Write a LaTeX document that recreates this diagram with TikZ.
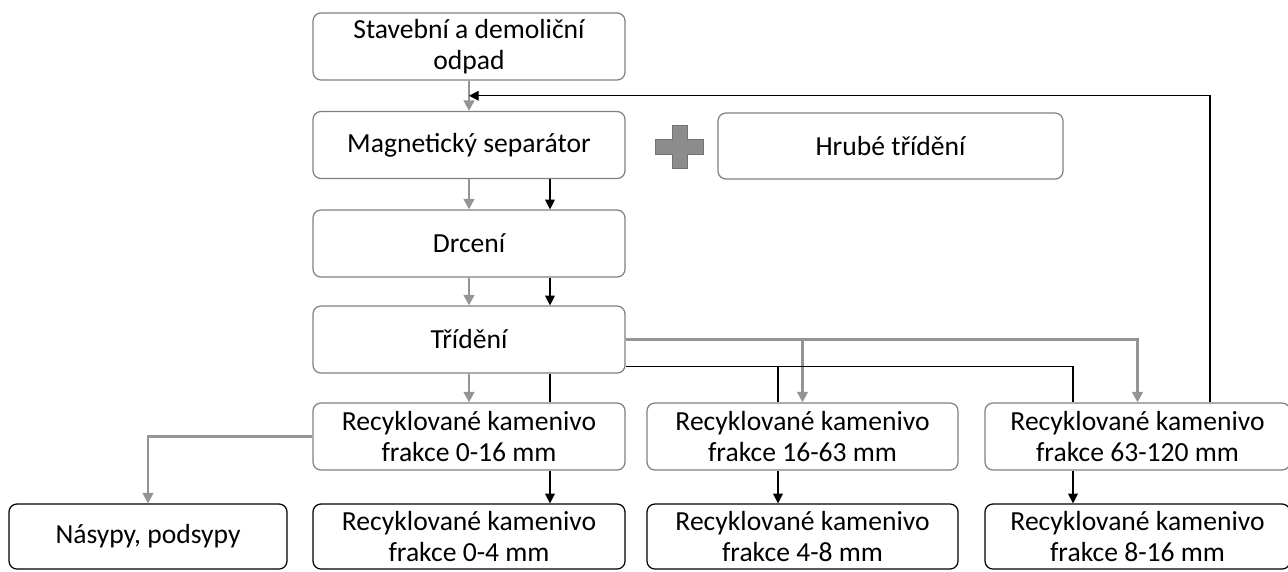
\documentclass[tikz,border=0pt]{standalone}
\usepackage{fontspec}
\setmainfont{Carlito}
\usetikzlibrary{arrows.meta,calc}

\begin{document}
\begin{tikzpicture}[
  box/.style={draw=black!50, rounded corners=4.5pt, line width=0.7pt, minimum width=6.24cm,
    minimum height=1.34cm, align=center, inner sep=2pt, font=\fontsize{15.7}{17.5}\selectfont},
  boxk/.style={box, draw=black, minimum height=1.3cm},
  gline/.style={draw=black!42, line width=1.5pt},
  garr/.style={gline, -{Triangle[width=6pt,length=6pt]}},
  kline/.style={draw=black, line width=0.7pt},
  karr/.style={kline, -{Triangle[width=5.5pt,length=5.5pt]}}]
\fill[white] (0,0) rectangle (25.76,-11.42);
\useasboundingbox (0,0) rectangle (25.76,-11.42);
% main line
\node[box] (src) at (9.38,-0.93) {Stavební a demoliční\\odpad};
\node[box] (mag) at (9.38,-2.90) {Magnetický separátor};
\node[box, minimum width=6.9cm, minimum height=1.32cm] (hrube) at (17.81,-2.92) {Hrubé třídění};
\node[box] (drc) at (9.38,-4.87) {Drcení};
\node[box] (trid) at (9.38,-6.79) {Třídění};
% fractions
\node[box] (r016) at (9.38,-8.73) {Recyklované kamenivo\\frakce 0-16 mm};
\node[box, minimum width=6.22cm] (r1663) at (16.05,-8.73) {Recyklované kamenivo\\frakce 16-63 mm};
\node[box, minimum width=6.1cm] (r63120) at (22.75,-8.73) {Recyklované kamenivo\\frakce 63-120 mm};
\node[boxk, minimum width=5.56cm] (nas) at (2.96,-10.73) {Násypy, podsypy};
\node[boxk] (r04) at (9.38,-10.73) {Recyklované kamenivo\\frakce 0-4 mm};
\node[boxk, minimum width=6.22cm] (r48) at (16.05,-10.73) {Recyklované kamenivo\\frakce 4-8 mm};
\node[boxk, minimum width=6.1cm] (r816) at (22.75,-10.73) {Recyklované kamenivo\\frakce 8-16 mm};
% plus sign
\draw[shift={(13.59,-2.93)}, fill=black!45, draw=black!55, line width=0.5pt]
  (-0.15,0.43) -- (0.15,0.43) -- (0.15,0.15) -- (0.48,0.15) -- (0.48,-0.15) -- (0.15,-0.15)
  -- (0.15,-0.43) -- (-0.15,-0.43) -- (-0.15,-0.15) -- (-0.48,-0.15) -- (-0.48,0.15)
  -- (-0.15,0.15) -- cycle;
% gray flow
\draw[garr] (src) -- (mag);
\draw[garr] (mag) -- (drc);
\draw[garr] (drc) -- (trid);
\draw[garr] (trid) -- (r016);
\draw[garr] (trid.east) -| (r63120.north);
\draw[garr] (trid.east -| r1663.north) -- (r1663.north);
\draw[garr] (r016.west) -| (nas.north);
% black flow
\foreach \a/\b in {mag/drc, drc/trid, r016/r04}
  \draw[karr] ([xshift=1.62cm]\a.south) -- ([xshift=1.62cm]\b.north);
\draw[kline] ([xshift=1.62cm]trid.south) -- ([xshift=1.62cm]r016.north);
\coordinate (kT) at ([yshift=0.14cm]trid.south east);
\coordinate (k48) at ([xshift=-0.49cm]r1663.north);
\coordinate (k816) at ([xshift=-1.29cm]r63120.north);
\draw[kline] (kT) -| (k816);
\draw[kline] (kT -| k48) -- (k48);
\draw[karr] ([xshift=-0.49cm]r1663.south) -- ([xshift=-0.49cm]r48.north);
\draw[karr] ([xshift=-1.29cm]r63120.south) -- ([xshift=-1.29cm]r816.north);
% return of coarse fraction
\draw[karr] ([xshift=1.45cm]r63120.north) |- ($(src.south)!0.5!(mag.north)$);
\end{tikzpicture}
\end{document}
